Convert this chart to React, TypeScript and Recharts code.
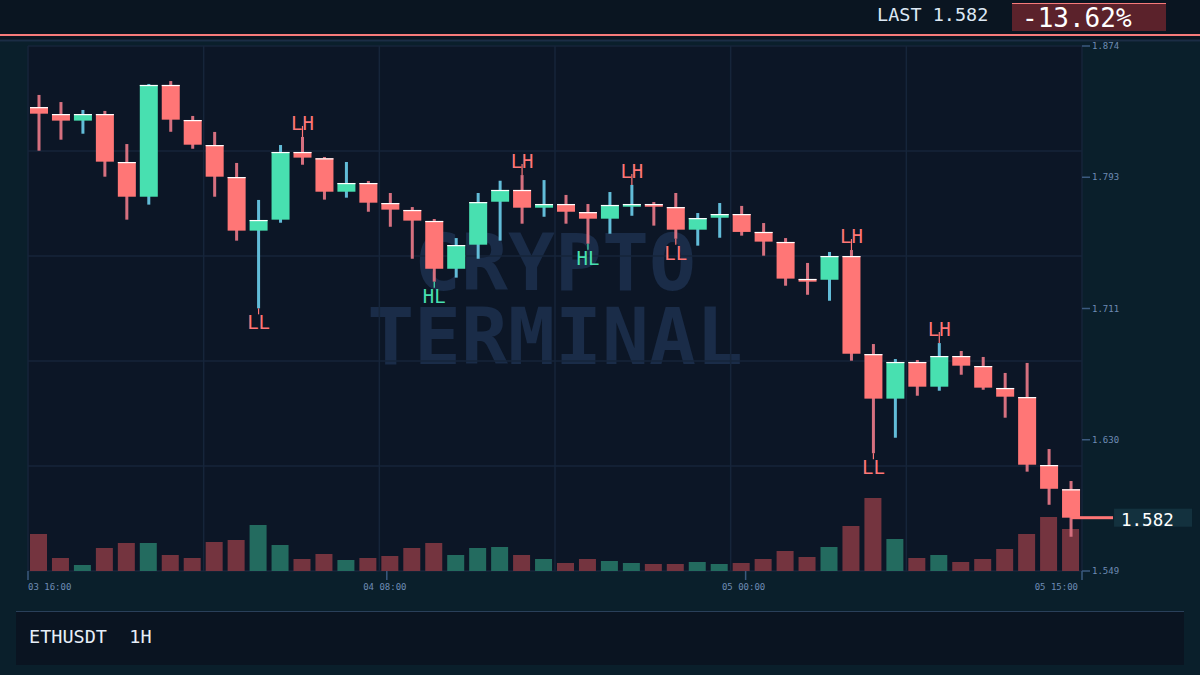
import React from "react";
import {
  ComposedChart,
  Bar,
  Line,
  XAxis,
  YAxis,
  CartesianGrid,
  Cell,
} from "recharts";

// ---------- data ----------
const categories = [
  "03 16:00", "03 17:00", "03 18:00", "03 19:00", "03 20:00", "03 21:00", "03 22:00", "03 23:00",
  "04 00:00", "04 01:00", "04 02:00", "04 03:00", "04 04:00", "04 05:00", "04 06:00", "04 07:00",
  "04 08:00", "04 09:00", "04 10:00", "04 11:00", "04 12:00", "04 13:00", "04 14:00", "04 15:00",
  "04 16:00", "04 17:00", "04 18:00", "04 19:00", "04 20:00", "04 21:00", "04 22:00", "04 23:00",
  "05 00:00", "05 01:00", "05 02:00", "05 03:00", "05 04:00", "05 05:00", "05 06:00", "05 07:00",
  "05 08:00", "05 09:00", "05 10:00", "05 11:00", "05 12:00", "05 13:00", "05 14:00", "05 15:00",
];

const opens = [
  1.8362, 1.8319, 1.8278, 1.8319, 1.8022, 1.7807, 1.8499, 1.8282, 1.8127, 1.7929, 1.7597, 1.7665,
  1.8084, 1.8045, 1.7838, 1.7892, 1.7768, 1.7725, 1.7657, 1.7361, 1.7510, 1.7776, 1.7849, 1.7739,
  1.7762, 1.7712, 1.7671, 1.7745, 1.7762, 1.7743, 1.7603, 1.7677, 1.7700, 1.7589, 1.7527, 1.7298,
  1.7293, 1.7440, 1.6833, 1.6557, 1.6784, 1.6631, 1.6821, 1.6759, 1.6623, 1.6567, 1.6146, 1.5996,
];
const highs = [
  1.8437, 1.8393, 1.8344, 1.8338, 1.8133, 1.8505, 1.8523, 1.8307, 1.8208, 1.8016, 1.7787, 1.8127,
  1.8177, 1.8053, 1.8022, 1.7904, 1.7830, 1.7743, 1.7669, 1.7551, 1.7830, 1.7906, 1.7941, 1.7910,
  1.7818, 1.7762, 1.7836, 1.7880, 1.7774, 1.7830, 1.7706, 1.7768, 1.7750, 1.7644, 1.7551, 1.7397,
  1.7465, 1.7477, 1.6895, 1.6802, 1.6796, 1.6901, 1.6852, 1.6815, 1.6716, 1.6778, 1.6245, 1.6047,
];
const lows = [
  1.8092, 1.8160, 1.8197, 1.7931, 1.7665, 1.7758, 1.8209, 1.8104, 1.7807, 1.7535, 1.7116, 1.7646,
  1.8005, 1.7789, 1.7801, 1.7714, 1.7621, 1.7423, 1.7281, 1.7306, 1.7423, 1.7535, 1.7640, 1.7683,
  1.7640, 1.7516, 1.7578, 1.7689, 1.7628, 1.7547, 1.7504, 1.7553, 1.7566, 1.7442, 1.7256, 1.7200,
  1.7163, 1.6792, 1.6219, 1.6315, 1.6575, 1.6606, 1.6705, 1.6612, 1.6439, 1.6105, 1.5900, 1.5702,
];
const closes = [
  1.8321, 1.8278, 1.8319, 1.8024, 1.7807, 1.8499, 1.8284, 1.8129, 1.7931, 1.7597, 1.7663, 1.8084,
  1.8049, 1.7838, 1.7892, 1.7770, 1.7727, 1.7659, 1.7361, 1.7508, 1.7774, 1.7849, 1.7739, 1.7762,
  1.7714, 1.7671, 1.7756, 1.7762, 1.7745, 1.7603, 1.7675, 1.7700, 1.7589, 1.7529, 1.7300, 1.7281,
  1.7440, 1.6835, 1.6557, 1.6784, 1.6631, 1.6821, 1.6761, 1.6625, 1.6569, 1.6148, 1.5999, 1.5820,
];
const volumes = [
  37, 13, 6, 23, 28, 28, 16, 13, 29, 31, 46, 26,
  12, 17, 11, 13, 15, 23, 28, 16, 23, 24, 16, 12,
  8, 12, 10, 8, 7, 7, 9, 7, 8, 12, 20, 14,
  24, 45, 73, 32, 13, 16, 9, 12, 22, 37, 54, 42,
];

const tagIndices = [10, 12, 18, 22, 25, 27, 29, 37, 38, 41];
const tagLabels = ["LL", "LH", "HL", "LH", "HL", "LH", "LL", "LH", "LL", "LH"];

const timeTicks = [0, 16, 32, 47];
const timeTickLabels = ["03 16:00", "04 08:00", "05 00:00", "05 15:00"];

const priceMin = 1.549;
const priceMax = 1.874;
const priceTickLabels = ["1.549", "1.630", "1.711", "1.793", "1.874"];

const lastPriceText = "1.582";
const changeText = "-13.62%";
const symbolText = "ETHUSDT  1H";
const watermarkLines = ["CRYPTO", "TERMINAL"];

// ---------- styles ----------
const FONT = "'DejaVu Sans Mono', 'Liberation Mono', monospace";
const BG = "#0a1f2b";
const PLOT_BG = "#0c1626";
const GRID = "#16253a";
const UP_BODY = "#48e0b0";
const UP_WICK = "#62bcd8";
const DOWN_BODY = "#ff7676";
const DOWN_WICK = "#d6707f";
const VOL_UP = "#236b5f";
const VOL_DOWN = "#74343f";
const AXIS_TEXT = "#6e8cb4";
const AXIS_TICK = "#3b5a7f";
const SALMON = "#f77b7b";

const W = 1200;
const H = 675;
const PLOT_L = 28;
const PLOT_T = 46;
const PLOT_R = 1082;
const PLOT_B = 571;
const Y_AXIS_W = 60;
const X_AXIS_H = 30;

const data = categories.map((t, i) => {
  const tagPos = tagIndices.indexOf(i);
  return {
    time: t,
    idx: i,
    open: opens[i],
    high: highs[i],
    low: lows[i],
    close: closes[i],
    range: [lows[i], highs[i]],
    vol: volumes[i],
    tag: tagPos >= 0 ? tagLabels[tagPos] : "",
    isLast: i === categories.length - 1,
  };
});

const CandleShape = (props: any) => {
  const { x, y, width, height, payload } = props;
  if (x == null || y == null || !payload) return null;
  const { open, close, high, low, tag, isLast } = payload;
  const top = Math.min(y, y + height);
  const h = Math.abs(height);
  const k = h / (high - low);
  const py = (v: number) => top + (high - v) * k;
  const up = close >= open;
  const cx = x + width / 2;
  const bodyTop = py(Math.max(open, close));
  const bodyBot = py(Math.min(open, close));
  const bodyH = Math.max(1, bodyBot - bodyTop);
  const yHigh = py(high);
  const yLow = py(low);
  const tagColor = tag === "HL" ? UP_BODY : DOWN_BODY;
  const above = tag === "LH";
  return (
    <g>
      <rect x={cx - 1.5} y={yHigh} width={3} height={yLow - yHigh} fill={up ? UP_WICK : DOWN_WICK} />
      <rect x={x} y={bodyTop} width={width} height={bodyH} fill={up ? UP_BODY : DOWN_BODY} />
      <rect x={x} y={bodyTop} width={width} height={1.2} fill="#ffffff" />
      {tag && above && (
        <g>
          <line x1={cx} x2={cx} y1={yHigh - 11} y2={yHigh} stroke={tagColor} strokeWidth={1.2} />
          <text x={cx} y={yHigh - 7} textAnchor="middle" fontFamily={FONT} fontSize={19} fill={tagColor}>
            {tag}
          </text>
        </g>
      )}
      {tag && !above && (
        <g>
          <line x1={cx} x2={cx} y1={yLow} y2={yLow + 6} stroke={tagColor} strokeWidth={1.2} />
          <text x={cx} y={yLow + 21} textAnchor="middle" fontFamily={FONT} fontSize={19} fill={tagColor}>
            {tag}
          </text>
        </g>
      )}
      {isLast && (
        <g>
          <rect x={cx} y={py(close) - 1.5} width={42} height={3} fill={DOWN_BODY} />
          <rect x={cx + 43} y={py(close) - 9} width={78} height={18} fill="#13313e" />
          <text x={cx + 50} y={py(close) + 8} fontFamily={FONT} fontSize={17.5} fill="#ffffff">
            {lastPriceText}
          </text>
        </g>
      )}
    </g>
  );
};

const TimeTick = (props: any) => {
  const { x, y, index, payload } = props;
  const i = index != null ? index : timeTicks.indexOf(payload?.value);
  const anchor = i === 0 ? "start" : i === timeTicks.length - 1 ? "end" : "middle";
  const dx = i === timeTicks.length - 1 ? -4 : i === 0 ? 0 : -2;
  return (
    <text x={x + dx} y={y + 10} textAnchor={anchor} fontFamily={FONT} fontSize={9} fill={AXIS_TEXT}>
      {timeTickLabels[i]}
    </text>
  );
};

const PriceTick = (props: any) => {
  const { x, y, index } = props;
  return (
    <text x={x} y={y + 3} textAnchor="start" fontFamily={FONT} fontSize={9} fill={AXIS_TEXT}>
      {priceTickLabels[index]}
    </text>
  );
};

const priceTicks = priceTickLabels.map((_, k) => priceMin + (k * (priceMax - priceMin)) / 4);

export default function App() {
  return (
    <div style={{ position: "fixed", left: 0, top: 0, width: W, height: H, overflow: "hidden", background: BG }}>
      <svg width={W} height={H} style={{ position: "absolute", left: 0, top: 0 }}>
        <rect x={0} y={0} width={W} height={H} fill={BG} />
        {/* top bar */}
        <rect x={0} y={0} width={W} height={40} fill="#0a1521" />
        <rect x={0} y={34} width={W} height={2} fill={SALMON} />
        <rect x={0} y={39.5} width={W} height={2} fill="#1b2d45" />
        <text x={877} y={21} fontFamily={FONT} fontSize={18.5} fill="#dde8f4">
          {"LAST " + lastPriceText}
        </text>
        <rect x={1012} y={3} width={154} height={28} fill="#5b222b" />
        <rect x={1012} y={3} width={154} height={1} fill={SALMON} />
        <text x={1022} y={27} fontFamily={FONT} fontSize={26} fill="#ffffff">
          {changeText}
        </text>
        {/* plot background */}
        <rect x={PLOT_L} y={PLOT_T} width={PLOT_R - PLOT_L} height={PLOT_B - PLOT_T} fill={PLOT_BG} />
        {/* watermark */}
        <text x={(PLOT_L + PLOT_R) / 2} y={290} textAnchor="middle" fontFamily={FONT} fontWeight="bold" fontSize={78} fill="#1a2c48">
          {watermarkLines[0]}
        </text>
        <text x={(PLOT_L + PLOT_R) / 2} y={364} textAnchor="middle" fontFamily={FONT} fontWeight="bold" fontSize={78} fill="#1a2c48">
          {watermarkLines[1]}
        </text>
        {/* bottom panel */}
        <rect x={16} y={611} width={1168} height={54} fill="#0a1421" />
        <rect x={16} y={611} width={1168} height={1} fill="#2a405a" />
        <text x={29} y={643} fontFamily={FONT} fontSize={18.5} fill="#e6eef8" style={{ whiteSpace: "pre" }}>
          {symbolText}
        </text>
      </svg>
      <div style={{ position: "absolute", left: 0, top: 0 }}>
        <ComposedChart
          width={W}
          height={H}
          data={data}
          margin={{ left: PLOT_L, top: PLOT_T, right: W - PLOT_R - Y_AXIS_W, bottom: H - PLOT_B - X_AXIS_H }}
        >
          <XAxis
            xAxisId="t"
            dataKey="idx"
            type="number"
            orientation="bottom"
            domain={[0, categories.length - 1]}
            ticks={timeTicks}
            interval={0}
            height={X_AXIS_H}
            axisLine={false}
            tickLine={{ stroke: AXIS_TICK, strokeWidth: 1.5 }}
            tickSize={9}
            tickMargin={0}
            tick={<TimeTick />}
          />
          <XAxis xAxisId="c" dataKey="time" orientation="top" height={0} hide />
          <XAxis xAxisId="v" dataKey="time" orientation="top" height={0} hide />
          <CartesianGrid
            xAxisId="c"
            yAxisId="p"
            stroke={GRID}
            strokeWidth={1.5}
            horizontalCoordinatesGenerator={({ offset }: any) =>
              [0, 1, 2, 3, 4, 5].map((k) => offset.top + (k * offset.height) / 5)
            }
            verticalCoordinatesGenerator={({ offset }: any) =>
              [0, 1, 2, 3, 4, 5, 6].map((k) => offset.left + (k * offset.width) / 6)
            }
          />
          <YAxis
            yAxisId="p"
            orientation="right"
            domain={[priceMin, priceMax]}
            ticks={priceTicks}
            interval={0}
            width={Y_AXIS_W}
            axisLine={false}
            tickLine={{ stroke: AXIS_TICK, strokeWidth: 1.5 }}
            tickSize={8}
            tickMargin={2}
            tick={<PriceTick />}
            allowDataOverflow
          />
          <YAxis yAxisId="v" domain={[0, PLOT_B - PLOT_T]} hide />
          <Bar xAxisId="v" yAxisId="v" dataKey="vol" barSize={17} isAnimationActive={false}>
            {data.map((d, i) => (
              <Cell key={i} fill={d.close >= d.open ? VOL_UP : VOL_DOWN} />
            ))}
          </Bar>
          <Bar
            xAxisId="c"
            yAxisId="p"
            dataKey="range"
            barSize={18}
            isAnimationActive={false}
            shape={<CandleShape />}
          />
          <Line
            xAxisId="t"
            yAxisId="p"
            dataKey="close"
            stroke="none"
            dot={false}
            activeDot={false}
            isAnimationActive={false}
          />
        </ComposedChart>
      </div>
    </div>
  );
}
